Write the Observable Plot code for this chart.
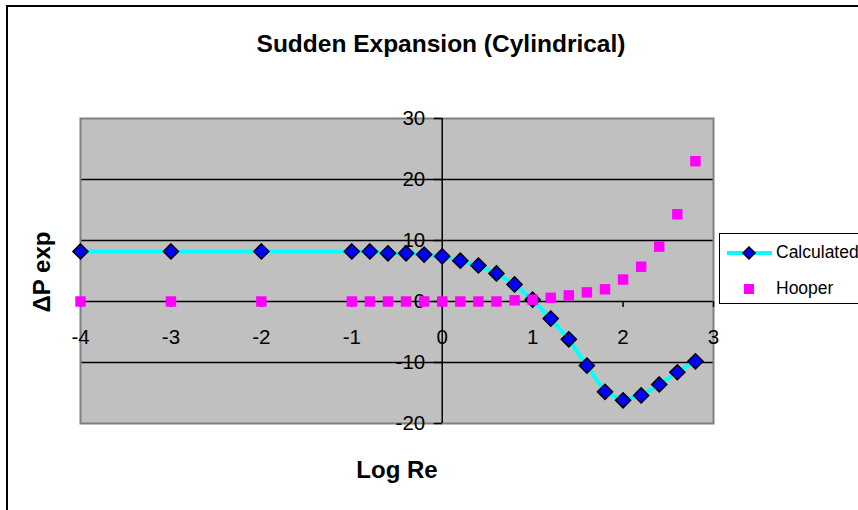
<!DOCTYPE html>
<html>
<head>
<meta charset="utf-8">
<script src="https://cdn.jsdelivr.net/npm/d3@7"></script>
<script src="https://cdn.jsdelivr.net/npm/@observablehq/plot@0.6"></script>
<style>
  html, body { margin: 0; padding: 0; background: #fff; overflow: hidden; }
  #chart { position: relative; width: 858px; height: 510px; font-family: "Liberation Sans", Arial, sans-serif; overflow: hidden; }
  #chart svg.plot { position: absolute; left: 0; top: 0; }
  .border { position: absolute; left: 6px; top: 5px; width: 900px; height: 600px; border: 2px solid #000; box-sizing: border-box; }
  .title { position: absolute; left: 441px; top: 30px; transform: translateX(-50%); font-weight: bold; font-size: 24.5px; line-height: 28px; white-space: nowrap; }
  .xlabel { position: absolute; left: 397px; top: 456px; transform: translateX(-50%); font-weight: bold; font-size: 24px; line-height: 28px; white-space: nowrap; }
  .ylabel { position: absolute; left: 42px; top: 272px; transform: translate(-50%, -50%) rotate(-90deg); font-weight: bold; font-size: 24px; line-height: 28px; white-space: nowrap; }
  .legend { position: absolute; left: 719px; top: 233px; width: 160px; height: 71px; border: 1.5px solid #000; background: #fff; box-sizing: border-box; }
  .legend svg { position: absolute; left: 0; top: 0; }
  .legend .lab { position: absolute; left: 56px; font-size: 17.5px; line-height: 20px; }
</style>
</head>
<body>
<div id="chart">
  <div class="border"></div>
</div>
<script>
// Pressure change across a sudden cylindrical expansion versus log Reynolds number
const logRe = [-4, -3, -2, -1, -0.8, -0.6, -0.4, -0.2, 0, 0.2, 0.4, 0.6, 0.8, 1, 1.2, 1.4, 1.6, 1.8, 2, 2.2, 2.4, 2.6, 2.8];
const calculated = [8.2, 8.2, 8.2, 8.2, 8.2, 7.9, 7.9, 7.7, 7.4, 6.7, 5.9, 4.6, 2.8, 0.3, -2.8, -6.2, -10.5, -14.8, -16.2, -15.4, -13.6, -11.6, -9.8];
const hooper = [0, 0, 0, 0, 0, 0, 0, 0, 0, 0, 0, 0, 0.2, 0.3, 0.6, 1.0, 1.5, 2.0, 3.6, 5.7, 9.0, 14.3, 23.0];
const xTicks = [-4, -3, -2, -1, 0, 1, 2, 3];
const yTicks = [-20, -10, 0, 10, 20, 30];
const gridY = [-10, 0, 10, 20];

const rows = logRe.map((x, i) => ({x, calc: calculated[i], hooper: hooper[i]}));
const font = "Liberation Sans, Arial, sans-serif";

const plot = Plot.plot({
  width: 858,
  height: 510,
  marginLeft: 80,
  marginRight: 145,
  marginTop: 118,
  marginBottom: 87,
  style: {background: "transparent", fontFamily: font, overflow: "visible"},
  x: {domain: [-4, 3], axis: null},
  y: {domain: [-20, 30], axis: null},
  marks: [
    Plot.frame({fill: "#c0c0c0", stroke: "none"}),
    Plot.ruleY(gridY, {stroke: "#000", strokeWidth: 1.5}),
    Plot.frame({stroke: "#808080", strokeWidth: 2}),
    // axes crossing at the origin
    Plot.ruleX([0], {stroke: "#000", strokeWidth: 1.5}),
    Plot.ruleY(yTicks, {x1: 0, x2: 0, insetLeft: -8, stroke: "#000", strokeWidth: 1.5}),
    Plot.ruleX(xTicks, {y1: 0, y2: 0, insetBottom: -6, stroke: "#000", strokeWidth: 1.5}),
    Plot.text(yTicks, {x: 0, y: d => d, text: d => String(d), textAnchor: "end", dx: -17, fontSize: 20.5, fill: "#000"}),
    Plot.text(xTicks, {x: d => d, y: 0, text: d => String(d), dy: 36, fontSize: 20.5, fill: "#000"}),
    // Calculated series
    Plot.line(rows, {x: "x", y: "calc", stroke: "#00ffff", strokeWidth: 4}),
    Plot.dot(rows, {x: "x", y: "calc", symbol: "diamond2", r: 6.8, fill: "#0000ff", stroke: "#000", strokeWidth: 1.5}),
    // Hooper series
    Plot.dot(rows, {x: "x", y: "hooper", symbol: "square", r: 5.9, fill: "#ff00ff", stroke: "none"})
  ]
});
plot.classList.add("plot");

const chart = document.getElementById("chart");
chart.appendChild(plot);

function addDiv(cls, text) {
  const d = document.createElement("div");
  d.className = cls;
  d.textContent = text;
  chart.appendChild(d);
  return d;
}
addDiv("title", "Sudden Expansion (Cylindrical)");
addDiv("xlabel", "Log Re");
addDiv("ylabel", "\u0394P exp");

// legend
const legend = document.createElement("div");
legend.className = "legend";
legend.innerHTML = `
  <svg width="60" height="70">
    <line x1="7" x2="52" y1="19" y2="19" stroke="#00ffff" stroke-width="4"/>
    <path d="M29,13 L35,19 L29,25 L23,19 Z" fill="#0000ff" stroke="#000" stroke-width="1.5"/>
    <rect x="24" y="50" width="10" height="10" fill="#ff00ff"/>
  </svg>
  <div class="lab" style="top:8px">Calculated</div>
  <div class="lab" style="top:44px">Hooper</div>`;
chart.appendChild(legend);
</script>
</body>
</html>
